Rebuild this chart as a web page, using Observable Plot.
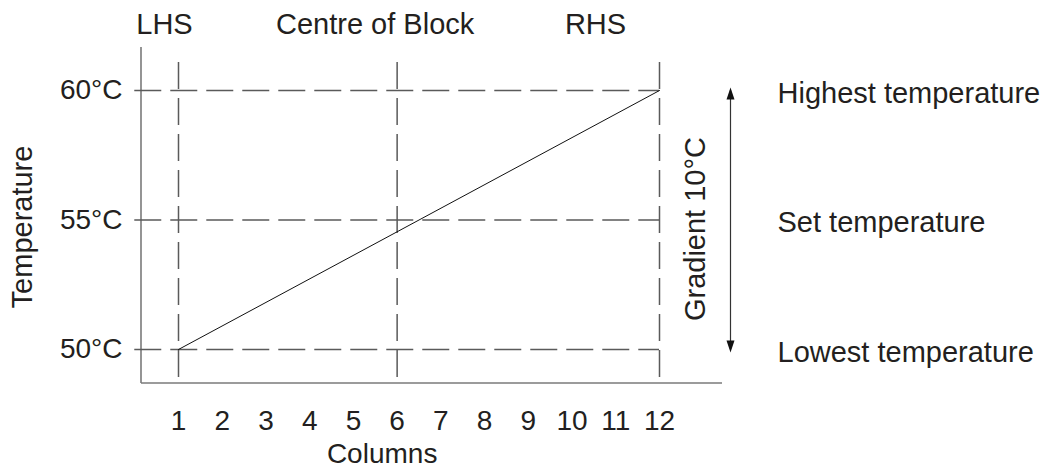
<!DOCTYPE html>
<html><head><meta charset="utf-8">
<script src="https://cdn.jsdelivr.net/npm/d3@7"></script>
<script src="https://cdn.jsdelivr.net/npm/@observablehq/plot@0.6"></script>
<style>html,body{margin:0;padding:0;background:#fff}</style>
</head><body><div id="chart"></div>
<script>
// ---- data ----
const columns = [1,2,3,4,5,6,7,8,9,10,11,12];
const tempTicks = [50,55,60];
const markerColumns = [1,6,12];
const markerLabels = ["LHS","Centre of Block","RHS"];
const gradientCols = [1,12];
const gradientTemps = [50,60];
const levelTemps = [60,55,50];
const levelLabels = ["Highest temperature","Set temperature","Lowest temperature"];
const xTitle = "Columns";
const yTitle = "Temperature";
const gradientTitle = "Gradient 10°C";

// ---- derived tables ----
const gradientLine = gradientCols.map((c,i)=>({col:c, temp:gradientTemps[i]}));
const lastCol = columns[columns.length-1];
const hLines = tempTicks.map(t=>({temp:t, col:lastCol}));
const levels = levelTemps.map((t,i)=>({temp:t, label:levelLabels[i], col:lastCol}));
const arrowSpan = [{col:lastCol, lo:d3.min(gradientTemps), hi:d3.max(gradientTemps)}];

const FONT = "Liberation Sans, Arial, Helvetica, sans-serif";
const TXT = "#231f20";
const FS = 29;
const AXFS = 28;
const dash = "27,9";

const upHead = {draw(ctx){ctx.moveTo(0,-3);ctx.lineTo(4,9);ctx.lineTo(-4,9);ctx.closePath();}};
const downHead = {draw(ctx){ctx.moveTo(0,3);ctx.lineTo(4,-9);ctx.lineTo(-4,-9);ctx.closePath();}};

const axesFrame = (index, scales, values, dims) => {
  const g = d3.create("svg:g").attr("stroke","#7a7a7a").attr("stroke-width",1.6).attr("fill","none");
  const x0 = dims.marginLeft, y0 = dims.height - dims.marginBottom;
  g.append("line").attr("x1",x0).attr("x2",x0).attr("y1",dims.marginTop).attr("y2",y0);
  g.append("line").attr("x1",x0).attr("x2",dims.width-dims.marginRight).attr("y1",y0).attr("y2",y0);
  return g.node();
};

const header = (i, dx) => Plot.text([markerLabels[i]], {x: () => markerColumns[i], text: d=>d, frameAnchor:"top", lineAnchor:"middle", textAnchor:"middle", dy:-23, dx, fontSize:FS, fill:TXT});

const chart = Plot.plot({
  width: 1045,
  height: 470,
  marginLeft: 141,
  marginRight: 323,
  marginTop: 47,
  marginBottom: 87,
  style: {fontFamily: FONT, fontSize: AXFS+"px", color: TXT, background:"#fff"},
  x: {domain:[1,12], range:[178,659], ticks: columns, tickSize:0, tickPadding:27, label:null},
  y: {domain:[50,60], range:[349,90], ticks: tempTicks, tickFormat: d=>`${d}°C`, tickSize:0, tickPadding:19, label:null},
  marks: [
    axesFrame,
    Plot.ruleY(hLines, {y:"temp", x2:"col", stroke:"#5a5a5a", strokeWidth:1.5, strokeDasharray:dash}),
    Plot.ruleX(markerColumns, {x:d=>d, insetTop:15, stroke:"#5a5a5a", strokeWidth:1.5, strokeDasharray:dash}),
    Plot.line(gradientLine, {x:"col", y:"temp", stroke:"#111", strokeWidth:1}),
    header(0,-14), header(1,-22), header(2,-64),
    Plot.ruleX(arrowSpan, {x:"col", y1:"lo", y2:"hi", dx:71, stroke:"#333", strokeWidth:1.2}),
    Plot.dot(arrowSpan, {x:"col", y:"hi", dx:71, symbol:upHead, fill:"#111", stroke:"none"}),
    Plot.dot(arrowSpan, {x:"col", y:"lo", dx:71, symbol:downHead, fill:"#111", stroke:"none"}),
    Plot.text([gradientTitle], {x:()=>lastCol, y:()=>55, text:d=>d, dx:36, dy:9, rotate:-90, textAnchor:"middle", lineAnchor:"middle", fontSize:FS, fill:TXT}),
    Plot.text(levels, {x:"col", y:"temp", text:"label", dx:118, dy:3, textAnchor:"start", lineAnchor:"middle", fontSize:FS, fill:TXT}),
    Plot.text([yTitle], {y:()=>55, text:d=>d, frameAnchor:"left", textAnchor:"middle", lineAnchor:"middle", dx:-119, dy:7, rotate:-90, fontSize:FS, fill:TXT}),
    Plot.text([xTitle], {x:()=>6, text:d=>d, frameAnchor:"bottom", textAnchor:"middle", lineAnchor:"middle", dy:71, dx:-15, fontSize:AXFS, fill:TXT})
  ]
});
document.getElementById("chart").append(chart);
</script>
</body></html>
